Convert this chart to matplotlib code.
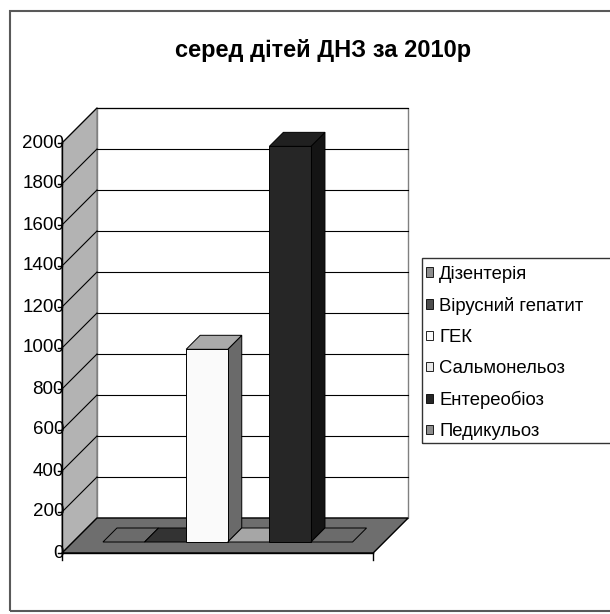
import matplotlib.pyplot as plt
from matplotlib.patches import Polygon, Rectangle, Patch

plt.rcParams['font.family'] = ['Liberation Sans', 'DejaVu Sans']

# Захворюваність серед дітей ДНЗ за 2010 р.
title = "серед дітей ДНЗ за 2010р"
series = ["Дізентерія", "Вірусний гепатит", "ГЕК", "Сальмонельоз", "Ентереобіоз", "Педикульоз"]
values = [0, 0, 940, 0, 1930, 0]
y_ticks = [0, 200, 400, 600, 800, 1000, 1200, 1400, 1600, 1800, 2000]

# кольори граней стовпчиків (фронт / верх / бік) і маркерів легенди
front_colors = ["#8c8c8c", "#4d4d4d", "#fafafa", "#e8e8e8", "#262626", "#8c8c8c"]
top_colors = ["#6b6b6b", "#333333", "#aaaaaa", "#a6a6a6", "#202020", "#6b6b6b"]
side_colors = ["#4a4a4a", "#222222", "#6a6a6a", "#7a7a7a", "#141414", "#4a4a4a"]

# геометрія 3D-проекції: пікселі на одиницю осей
PX_X = 41.6      # ширина одного стовпчика
PX_Y = 0.205     # на одиницю значення
W, H = 610, 614
DX = 35 / PX_X   # зсув глибини
DY = 35 / PX_Y
FLOOR_W = 7.48
BAR_X0 = 0.72
BAR_FRONT = 11 / 35
BAR_DEPTH = 14 / 35
y_top = y_ticks[-1]

fig = plt.figure(figsize=(W / 100, H / 100), dpi=100)
ax = fig.add_axes([0, 0, 1, 1])
ax.set_xlim(-62 / PX_X, (W - 62) / PX_X)
ax.set_ylim(-(H - 553) / PX_Y, 553 / PX_Y)
ax.axis('off')

# задня стінка
ax.add_patch(Polygon([(DX, DY), (DX + FLOOR_W, DY), (DX + FLOOR_W, DY + y_top), (DX, DY + y_top)],
                     facecolor='white', edgecolor='#808080', lw=1, zorder=1))
# бічна стінка
ax.add_patch(Polygon([(0, 0), (DX, DY), (DX, DY + y_top), (0, y_top)],
                     facecolor='#b3b3b3', edgecolor='#808080', lw=1, zorder=1))
# лінії сітки
for v in y_ticks[1:]:
    ax.plot([DX, DX + FLOOR_W], [DY + v, DY + v], color='black', lw=0.8, zorder=1.5)
    ax.plot([0, DX], [v, DY + v], color='black', lw=0.8, zorder=1.5)
# підлога
ax.add_patch(Polygon([(0, 0), (FLOOR_W, 0), (FLOOR_W + DX, DY), (DX, DY)],
                     facecolor='#6e6e6e', edgecolor='black', lw=1, zorder=2))

# вісь значень
tick_len = 4 / PX_X
ax.plot([0, 0], [0, y_top], color='black', lw=1, zorder=2.5)
for v in y_ticks:
    ax.plot([-tick_len, 0], [v, v], color='black', lw=1, zorder=2.5)
    ax.text(2 / PX_X, v, str(v), ha='right', va='center', fontsize=13.5, zorder=2.6)
# вісь категорій
ax.plot([0, FLOOR_W], [0, 0], color='black', lw=1, zorder=2.5)
for x in [0, FLOOR_W]:
    ax.plot([x, x], [0, -7 / PX_Y], color='black', lw=1, zorder=2.5)

# стовпчики
for i, v in enumerate(values):
    xl = BAR_X0 + i + BAR_FRONT * DX
    yb = BAR_FRONT * DY
    bx, by = BAR_DEPTH * DX, BAR_DEPTH * DY
    z = 3 + i * 0.1
    if v > 0:
        ax.add_patch(Polygon([(xl + 1, yb), (xl + 1 + bx, yb + by), (xl + 1 + bx, yb + v + by), (xl + 1, yb + v)],
                             facecolor=side_colors[i], edgecolor='black', lw=0.7, zorder=z))
    ax.add_patch(Polygon([(xl, yb + v), (xl + 1, yb + v), (xl + 1 + bx, yb + v + by), (xl + bx, yb + v + by)],
                         facecolor=top_colors[i], edgecolor='black', lw=0.7, zorder=z))
    if v > 0:
        ax.bar(xl, v, bottom=yb, width=1, align='edge', color=front_colors[i],
               edgecolor='black', lw=0.7, zorder=z + 0.01)

# заголовок
fig.text(323 / W, 1 - 51 / H, title, ha='center', va='center', fontsize=17, fontweight='bold')

# легенда
handles = [Patch(facecolor=c, edgecolor='black', lw=0.6) for c in front_colors]
fig.legend(handles, series, loc='upper left', bbox_to_anchor=(422 / W, 1 - 262 / H),
           frameon=False, fontsize=13.3, handlelength=0.4, handleheight=0.4,
           handletextpad=0.33, labelspacing=0.76, borderpad=0.2, borderaxespad=0)
fig.add_artist(Rectangle((422 / W, 1 - 443 / H), 300 / W, (443 - 258) / H,
                         transform=fig.transFigure, fill=False, edgecolor='#333333', lw=1))

# рамка діаграми
fig.add_artist(Rectangle((10 / W, 1 - 611 / H), 700 / W, (611 - 11) / H,
                         transform=fig.transFigure, fill=False, edgecolor='#595959', lw=1.5))

fig.savefig('out.png', dpi=100)
